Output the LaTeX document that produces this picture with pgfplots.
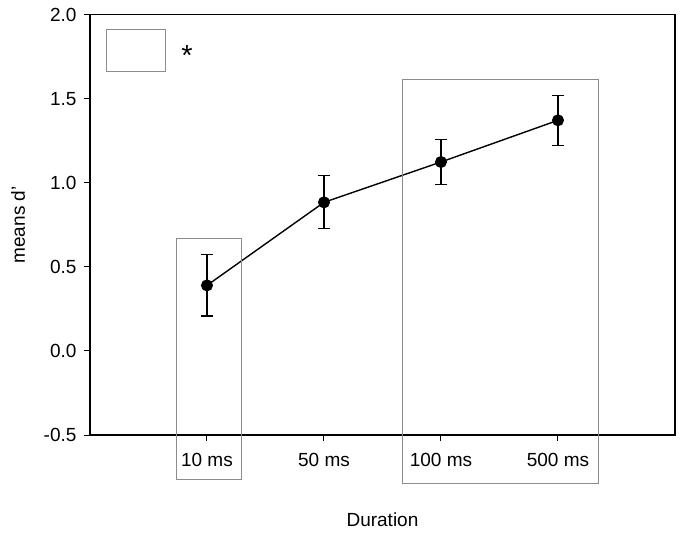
\documentclass[border=0pt]{standalone}
\usepackage{pgfplots}
\pgfplotsset{compat=1.18}
\usepackage{fontspec}
\setmainfont{Liberation Sans}
\begin{document}
\begin{tikzpicture}[font=\fontsize{19}{22}\selectfont]
\begin{axis}[
  scale only axis,
  width=585pt, height=420.3pt,
  xmin=0, xmax=5, ymin=-0.5, ymax=2.0,
  font=\fontsize{19}{22}\selectfont,
  xtick={1,2,3,4},
  xticklabels={10 ms,50 ms,100 ms,500 ms},
  ytick={-0.5,0,0.5,1,1.5,2},
  yticklabel style={xshift=-4pt, font=\fontsize{19}{22}\selectfont},
  y tick label style={/pgf/number format/fixed, /pgf/number format/fixed zerofill, /pgf/number format/precision=1},
  /pgf/number format/assume math mode=true,
  xtick pos=bottom, ytick pos=left,
  tick align=outside,
  major tick length=6pt,
  tick style={black, line width=1pt},
  axis line style={line width=1.4pt},
  xticklabel style={yshift=-9pt, font=\fontsize{19}{22}\selectfont},
  xlabel={Duration},
  ylabel={means d'},
  xlabel style={at={(axis description cs:0.5,0)}, anchor=center, yshift=-85pt, font=\fontsize{19}{22}\selectfont},
  ylabel style={at={(axis description cs:0,0.5)}, anchor=center, rotate=0, yshift=72pt, font=\fontsize{19}{22}\selectfont},
  clip=false,
  every axis plot/.append style={line width=1.4pt},
]
\addplot[black, mark=*, mark size=5.3pt,
  error bars/.cd, y dir=both, y explicit,
  error bar style={line width=1.1pt, black},
  error mark options={rotate=90, mark size=6.3pt, line width=1.1pt, black}]
  coordinates {
  (1,0.390) +- (0,0.182)
  (2,0.884) +- (0,0.157)
  (3,1.124) +- (0,0.135)
  (4,1.372) +- (0,0.150)
  };
\draw[color=black!45, line width=0.9pt] (axis cs:0.738,0.668) rectangle (axis cs:1.297,-0.764);
\draw[color=black!45, line width=0.9pt] (axis cs:2.673,1.616) rectangle (axis cs:4.345,-0.787);
\draw[color=black!45, line width=0.9pt] (axis cs:0.142,1.913) rectangle (axis cs:0.641,1.665);
\node[font=\fontsize{29}{30}\selectfont, inner sep=0pt, anchor=north] at (axis cs:0.83,1.82) {*};
\path[draw=none] (rel axis cs:-0.1538,-0.2403) rectangle (rel axis cs:1.0137,1.035);
\end{axis}
\end{tikzpicture}
\end{document}
